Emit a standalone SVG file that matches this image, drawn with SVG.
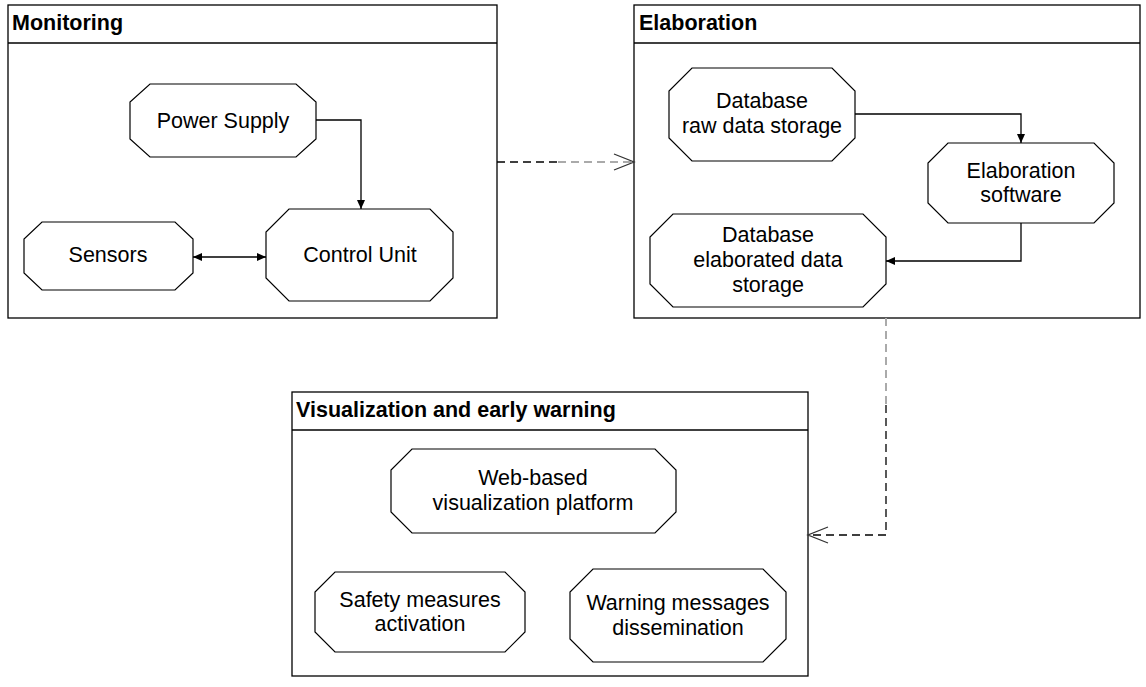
<svg xmlns="http://www.w3.org/2000/svg" width="1146" height="687" viewBox="0 0 1146 687">
<style>
.c{fill:#fff;stroke:#000;stroke-width:1.3}
.o{fill:#fff;stroke:#000;stroke-width:1.2}
.h{font-family:"Liberation Sans",Arial,sans-serif;font-weight:bold;font-size:21.5px}
.t{font-family:"Liberation Sans",Arial,sans-serif;font-size:21.5px;text-anchor:middle}
.e{fill:none;stroke:#000;stroke-width:1.3}
.d{fill:none;stroke:#000;stroke-width:1.3;stroke-dasharray:8 5}
.g{fill:none;stroke:#aaa;stroke-width:2;stroke-dasharray:8 5}
</style>
<defs>
<marker id="a" markerWidth="10" markerHeight="10" refX="9" refY="5" orient="auto" markerUnits="userSpaceOnUse"><path d="M0,1 L9,5 L0,9 Z" fill="#000"/></marker>
<marker id="as" markerWidth="10" markerHeight="10" refX="1" refY="5" orient="auto" markerUnits="userSpaceOnUse"><path d="M10,1 L1,5 L10,9 Z" fill="#000"/></marker>
<marker id="op" markerWidth="24" markerHeight="20" refX="21" refY="10" orient="auto" markerUnits="userSpaceOnUse"><path d="M1,2 L21,10 L1,18" fill="none" stroke="#333" stroke-width="1.3"/></marker>
</defs>
<rect width="1146" height="687" fill="#fff"/>
<g id="monitoring"><rect class="c" x="8" y="5" width="489" height="313"/><line class="c" x1="8" y1="43" x2="497" y2="43"/><text class="h" x="12" y="30">Monitoring</text></g>
<g id="elaboration"><rect class="c" x="634" y="5" width="506" height="313"/><line class="c" x1="634" y1="43" x2="1140" y2="43"/><text class="h" x="639" y="30">Elaboration</text></g>
<g id="visualization"><rect class="c" x="292" y="392" width="516" height="284"/><line class="c" x1="292" y1="430" x2="808" y2="430"/><text class="h" x="296" y="417">Visualization and early warning</text></g>
<g id="power"><polygon class="o" points="150,84 296,84 316,102 316,139 296,157 150,157 130,139 130,102"/><text class="t" x="223" y="128">Power Supply</text></g>
<g id="sensors"><polygon class="o" points="42,222 175,222 193,239 193,273 175,290 42,290 24,273 24,239"/><text class="t" x="108" y="262">Sensors</text></g>
<g id="control"><polygon class="o" points="289,209 430,209 453,232 453,278 430,301 289,301 266,278 266,232"/><text class="t" x="360" y="262">Control Unit</text></g>
<g id="dbraw"><polygon class="o" points="692,68 832,68 855,91 855,138 832,161 692,161 669,138 669,91"/><text class="t" x="762" y="108">Database</text><text class="t" x="762" y="133">raw data storage</text></g>
<g id="elabsw"><polygon class="o" points="948,143 1094,143 1114,163 1114,203 1094,223 948,223 928,203 928,163"/><text class="t" x="1021" y="178">Elaboration</text><text class="t" x="1021" y="202">software</text></g>
<g id="dbelab"><polygon class="o" points="673,214 863,214 886,237 886,284 863,307 673,307 650,284 650,237"/><text class="t" x="768" y="242">Database</text><text class="t" x="768" y="267">elaborated data</text><text class="t" x="768" y="292">storage</text></g>
<g id="web"><polygon class="o" points="412,449 655,449 676,470 676,512 655,533 412,533 391,512 391,470"/><text class="t" x="533" y="485">Web-based</text><text class="t" x="533" y="510">visualization platform</text></g>
<g id="safety"><polygon class="o" points="335,572 505,572 525,592 525,632 505,652 335,652 315,632 315,592"/><text class="t" x="420" y="607">Safety measures</text><text class="t" x="420" y="631">activation</text></g>
<g id="warning"><polygon class="o" points="593,569 763,569 786,592 786,639 763,662 593,662 570,639 570,592"/><text class="t" x="678" y="610">Warning messages</text><text class="t" x="678" y="635">dissemination</text></g>
<g id="connectors">
<path class="e" d="M316,120 H361 V209" marker-end="url(#a)"/>
<path class="e" d="M193,257 H266" marker-start="url(#as)" marker-end="url(#a)"/>
<path class="e" d="M855,114 H1021 V143" marker-end="url(#a)"/>
<path class="e" d="M1021,223 V261 H886" marker-end="url(#a)"/>
<path class="d" d="M497,162 H558"/>
<path class="g" d="M558,162 H634" marker-end="url(#op)"/>
<path class="g" d="M886,318 V405"/>
<path class="d" d="M886,405 V535 H808" marker-end="url(#op)"/>
</g>
</svg>
